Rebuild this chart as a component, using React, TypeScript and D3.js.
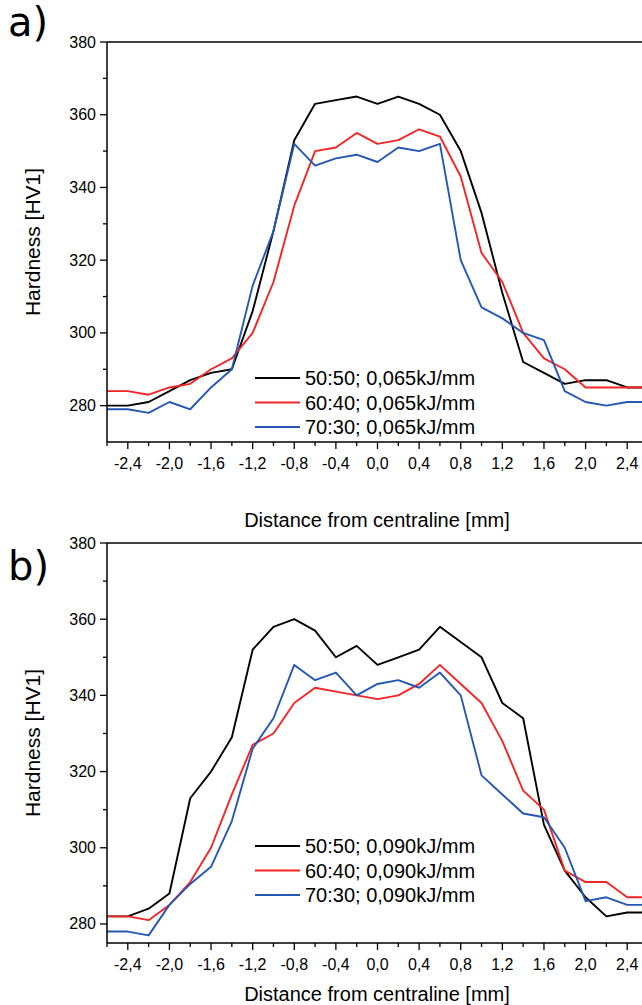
import * as d3 from 'd3'

const W = 642, H = 1005

// distance from centraline [mm]
const distance = [-2.6, -2.4, -2.2, -2.0, -1.8, -1.6, -1.4, -1.2, -1.0, -0.8, -0.6, -0.4, -0.2, 0.0,
  0.2, 0.4, 0.6, 0.8, 1.0, 1.2, 1.4, 1.6, 1.8, 2.0, 2.2, 2.4, 2.6]

// a) 0,065 kJ/mm
const a5050 = [280, 280, 281, 284, 287, 289, 290, 306, 328, 353, 363, 364, 365, 363,
  365, 363, 360, 350, 333, 311, 292, 289, 286, 287, 287, 285, 285]
const a6040 = [284, 284, 283, 285, 286, 290, 293, 300, 314, 335, 350, 351, 355, 352,
  353, 356, 354, 343, 322, 314, 300, 293, 290, 285, 285, 285, 285]
const a7030 = [279, 279, 278, 281, 279, 285, 290, 313, 328, 352, 346, 348, 349, 347,
  351, 350, 352, 320, 307, 304, 300, 298, 284, 281, 280, 281, 281]

// b) 0,090 kJ/mm
const b5050 = [282, 282, 284, 288, 313, 320, 329, 352, 358, 360, 357, 350, 353, 348,
  350, 352, 358, 354, 350, 338, 334, 306, 294, 287, 282, 283, 283]
const b6040 = [282, 282, 281, 285, 291, 300, 314, 327, 330, 338, 342, 341, 340, 339,
  340, 343, 348, 343, 338, 328, 315, 310, 294, 291, 291, 287, 287]
const b7030 = [278, 278, 277, 285, 290.5, 295, 307, 326, 334, 348, 344, 346, 340, 343,
  344, 342, 346, 340, 319, 314, 309, 308, 300, 286, 287, 285, 285]

const seriesNames = ['50:50', '60:40', '70:30']
const seriesColors = ['#000000', '#f42525', '#2457b5']
const majorX = [-2.4, -2.0, -1.6, -1.2, -0.8, -0.4, 0.0, 0.4, 0.8, 1.2, 1.6, 2.0, 2.4]
const minorX = [-2.6, -2.2, -1.8, -1.4, -1.0, -0.6, -0.2, 0.2, 0.6, 1.0, 1.4, 1.8, 2.2, 2.6]
const majorY = [280, 300, 320, 340, 360, 380]
const minorY = [270, 290, 310, 330, 350, 370]

const FONT = 'Liberation Sans, Arial, sans-serif'

type PanelProps = {
  letter: string
  letterY: number
  energy: string
  series: number[][]
  yDomain: [number, number]
  top: number
  bottom: number
  legendY: number
  titleY: number
}

function Panel({ letter, letterY, energy, series, yDomain, top, bottom, legendY, titleY }: PanelProps) {
  const x = d3.scaleLinear().domain([-2.6, 2.6]).range([107, 648])
  const y = d3.scaleLinear().domain(yDomain).range([bottom, top])
  const line = d3.line<number>().x((_, i) => x(distance[i])).y(d => y(d))
  const fmt = (v: number) => v.toFixed(1).replace('.', ',')
  const x0 = x.range()[0]

  return (
    <g>
      <text x={8} y={letterY} fontSize={40} fontFamily="DejaVu Sans, Verdana, sans-serif">{letter}</text>

      {series.map((s, i) => (
        <path key={i} d={line(s) ?? ''} fill="none" stroke={seriesColors[i]} strokeWidth={1.9}
          strokeLinejoin="round" />
      ))}

      {/* frame */}
      <line x1={x0} x2={W + 10} y1={top} y2={top} stroke="#000" strokeWidth={1.5} />
      <line x1={x0} x2={W + 10} y1={bottom} y2={bottom} stroke="#000" strokeWidth={1.5} />
      <line x1={x0} x2={x0} y1={top} y2={bottom} stroke="#000" strokeWidth={1.5} />

      {/* y ticks */}
      {majorY.filter(v => v >= yDomain[0]).map(v => (
        <g key={'my' + v}>
          <line x1={x0 - 7} x2={x0} y1={y(v)} y2={y(v)} stroke="#000" strokeWidth={1.3} />
          <text x={x0 - 11} y={y(v) + 5.5} fontSize={16} textAnchor="end" fontFamily={FONT}>{v}</text>
        </g>
      ))}
      {minorY.filter(v => v > yDomain[0]).map(v => (
        <line key={'ny' + v} x1={x0 - 4} x2={x0} y1={y(v)} y2={y(v)} stroke="#000" strokeWidth={1.3} />
      ))}

      {/* x ticks */}
      {majorX.map(v => (
        <g key={'mx' + v}>
          <line x1={x(v)} x2={x(v)} y1={bottom} y2={bottom + 7} stroke="#000" strokeWidth={1.3} />
          <text x={x(v)} y={bottom + 27} fontSize={16} textAnchor="middle" fontFamily={FONT}>{fmt(v)}</text>
        </g>
      ))}
      {minorX.map(v => (
        <line key={'nx' + v} x1={x(v)} x2={x(v)} y1={bottom} y2={bottom + 4} stroke="#000" strokeWidth={1.3} />
      ))}

      {/* axis titles */}
      <text x={377} y={titleY} fontSize={20} textAnchor="middle" fontFamily={FONT}>
        Distance from centraline [mm]
      </text>
      <text transform={`translate(40, ${(top + bottom) / 2}) rotate(-90)`} fontSize={21}
        textAnchor="middle" fontFamily={FONT}>Hardness [HV1]</text>

      {/* legend */}
      {seriesNames.map((name, i) => (
        <g key={name} transform={`translate(0, ${legendY + i * 24.5})`}>
          <line x1={255} x2={300} y1={0} y2={0} stroke={seriesColors[i]} strokeWidth={1.9} />
          <text x={305} y={7} fontSize={20} fontFamily={FONT}>{`${name}; ${energy}kJ/mm`}</text>
        </g>
      ))}
    </g>
  )
}

export default function App() {
  return (
    <svg width={W} height={H} style={{ position: 'absolute', left: 0, top: 0, background: '#fff' }}>
      <rect width={W} height={H} fill="#fff" />
      <Panel letter="a)" letterY={36} energy="0,065" series={[a5050, a6040, a7030]} yDomain={[270, 380]}
        top={42} bottom={442} legendY={378} titleY={527} />
      <Panel letter="b)" letterY={580} energy="0,090" series={[b5050, b6040, b7030]} yDomain={[275, 380]}
        top={543} bottom={943} legendY={846} titleY={1001} />
    </svg>
  )
}
